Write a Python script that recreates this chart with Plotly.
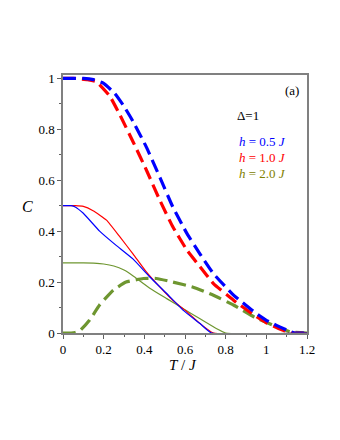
import plotly.graph_objects as go

# T/J sample points and readings for each curve
t_blue_dash = [0, 0.05, 0.1, 0.15, 0.2, 0.255, 0.3, 0.345, 0.41, 0.477, 0.54, 0.61, 0.674, 0.74, 0.84, 0.94, 1.0, 1.05, 1.1, 1.14, 1.2]
c_blue_dash = [1, 1, 1, 0.995, 0.98, 0.94, 0.89, 0.83, 0.73, 0.61, 0.495, 0.39, 0.31, 0.233, 0.148, 0.083, 0.05, 0.03, 0.012, 0, 0]

t_red_dash = [0, 0.05, 0.08, 0.12, 0.164, 0.23, 0.28, 0.345, 0.41, 0.477, 0.54, 0.61, 0.674, 0.74, 0.84, 0.94, 1.0, 1.06, 1.12, 1.2]
c_red_dash = [1, 1, 0.998, 0.995, 0.987, 0.93, 0.856, 0.75, 0.64, 0.52, 0.417, 0.325, 0.26, 0.194, 0.128, 0.07, 0.04, 0.018, 0, 0]

t_blue = [0, 0.04, 0.06, 0.1, 0.18, 0.26, 0.345, 0.427, 0.51, 0.59, 0.674, 0.73, 1.2]
c_blue = [0.5, 0.5, 0.495, 0.47, 0.40, 0.345, 0.29, 0.22, 0.155, 0.09, 0.037, 0, 0]

t_red = [0, 0.06, 0.1, 0.148, 0.214, 0.28, 0.345, 0.41, 0.477, 0.54, 0.61, 0.674, 0.74, 1.2]
c_red = [0.5, 0.5, 0.497, 0.48, 0.443, 0.377, 0.31, 0.24, 0.18, 0.128, 0.083, 0.037, 0, 0]

t_green = [0, 0.1, 0.15, 0.2, 0.25, 0.3, 0.345, 0.427, 0.51, 0.59, 0.674, 0.756, 0.8, 1.2]
c_green = [0.275, 0.275, 0.274, 0.271, 0.263, 0.247, 0.224, 0.176, 0.135, 0.096, 0.056, 0.017, 0, 0]

t_green_dash = [0, 0.04, 0.06, 0.082, 0.13, 0.18, 0.247, 0.31, 0.395, 0.46, 0.54, 0.64, 0.74, 0.84, 0.94, 1.035, 1.12, 1.2]
c_green_dash = [0, 0, 0.002, 0.008, 0.05, 0.11, 0.168, 0.2, 0.214, 0.214, 0.2, 0.18, 0.148, 0.109, 0.063, 0.03, 0.004, 0]

BLUE = "#0000ff"
RED = "#ff0000"
GREEN = "#6e9630"
OLIVE = "#808000"
FONT = "Liberation Serif"

# plot box in page pixels (page body has an 8px margin)
X0, X1, Y0, Y1 = 63, 307, 75, 333
OFF = 8

fig = go.Figure()

curves = [
    (t_green_dash, c_green_dash, GREEN, 3.2, "13px,6px"),
    (t_red_dash, c_red_dash, RED, 3.2, "13px,6px"),
    (t_blue_dash, c_blue_dash, BLUE, 3.2, "13px,6px"),
    (t_green, c_green, GREEN, 1.2, "solid"),
    (t_red, c_red, RED, 1.2, "solid"),
    (t_blue, c_blue, BLUE, 1.2, "solid"),
]
for x, y, col, w, dash in curves:
    fig.add_trace(go.Scatter(
        x=x, y=y, mode="lines",
        line=dict(color=col, width=w, dash=dash, shape="spline", smoothing=0.4),
        showlegend=False, cliponaxis=False,
    ))

axis_common = dict(
    showgrid=False, zeroline=False, showline=True, linecolor="#808080", linewidth=1.5,
    mirror=True, ticks="outside", ticklen=4, tickcolor="#606060",
    tickfont=dict(family=FONT, size=13, color="black"),
    minor=dict(ticks="outside", ticklen=2, tickcolor="#606060", dtick=0.1),
)

fig.update_xaxes(range=[0, 1.2], tickvals=[0, 0.2, 0.4, 0.6, 0.8, 1, 1.2],
                 ticktext=["0", "0.2", "0.4", "0.6", "0.8", "1", "1.2"], **axis_common)
fig.update_yaxes(range=[0, 1.013], tickvals=[0, 0.2, 0.4, 0.6, 0.8, 1],
                 ticktext=["0", "0.2", "0.4", "0.6", "0.8", "1"], **axis_common)


def note(px, py, txt, col, size=13, family=FONT):
    fig.add_annotation(
        x=(px - X0) / (X1 - X0), y=(Y1 - py) / (Y1 - Y0), xref="paper", yref="paper",
        text=txt, showarrow=False, font=dict(family=family, size=size, color=col),
        xanchor="center", yanchor="middle",
    )


note(292, 90, "(a)", "black")
note(248, 116, "Δ=1", "black")
note(262, 141, "<i>h</i> = 0.5 <i>J</i>", BLUE)
note(262, 157, "<i>h</i> = 1.0 <i>J</i>", RED)
note(262, 173, "<i>h</i> = 2.0 <i>J</i>", OLIVE)
note(183, 365, "<i>T</i> / <i>J</i>", "black", size=15)
note(27, 206, "<i>C</i>", "black", size=16)

fig.update_layout(
    width=340, height=440,
    margin=dict(l=X0 - OFF, r=340 + OFF - X1, t=Y0 - OFF, b=440 + OFF - Y1, autoexpand=False),
    plot_bgcolor="white", paper_bgcolor="white",
)

fig.write_html("out.html")
